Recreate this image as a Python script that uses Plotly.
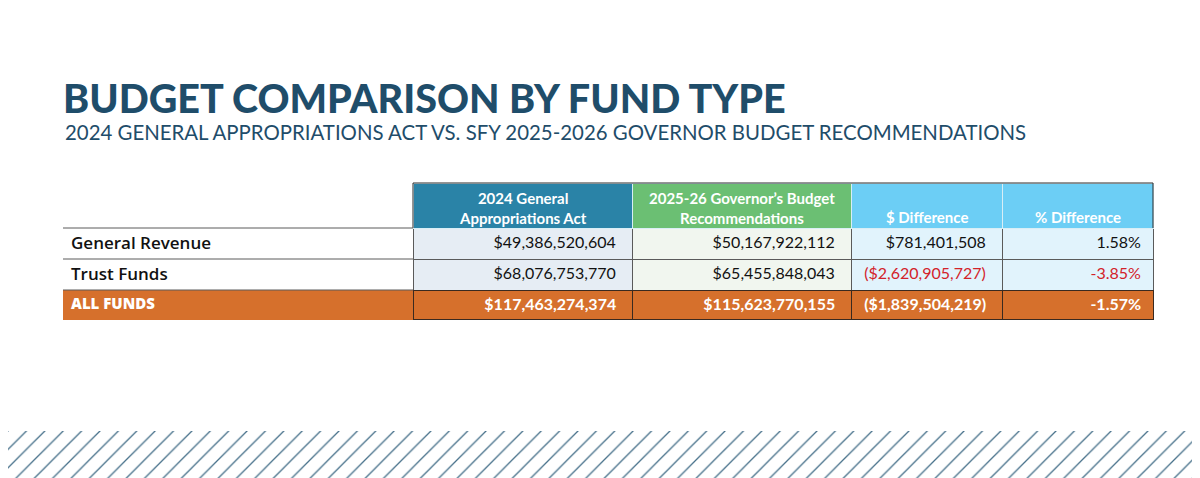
import plotly.graph_objects as go

# table data
fund_types = ["General Revenue", "Trust Funds", "ALL FUNDS"]
gaa_2024 = [49386520604, 68076753770, 117463274374]
gov_2526 = [50167922112, 65455848043, 115623770155]
dollar_diff = [781401508, -2620905727, -1839504219]
pct_diff = [1.58, -3.85, -1.57]

col_headers = ["", "2024 General<br>Appropriations Act", "2025-26 Governor’s Budget<br>Recommendations",
               "$ Difference", "% Difference"]

W, H = 1200, 478
OFF = 8          # the page body adds 8px before the figure
TX0, TX1, TY0 = 63, 1153, 183
HEAD_H, ROW_H, TOT_H = 45, 31, 29
col_w = [350, 219, 219, 151, 151]

NAVY = "#1f4d6a"
ORANGE = "#d6702c"
RED = "#d3222a"
INK = "#111111"
DARK = "#2b2b2b"
FAMS = ["Open Sans", "Lato", "Lato", "Lato", "Lato"]


def px(x):
    return (x - OFF) / W


def py(y):
    return 1 - (y - OFF) / H


def money(v):
    s = "${:,.0f}".format(abs(v))
    return "(" + s + ")" if v < 0 else s


NB = "\u00a0"
pads = ["", NB * 2, NB * 2, NB * 2, NB]
cols = [
    fund_types,
    [money(v) for v in gaa_2024],
    [money(v) for v in gov_2526],
    [money(v) for v in dollar_diff],
    ["{:.2f}%".format(v) for v in pct_diff],
]
cols = [[s + pads[i] for s in c] for i, c in enumerate(cols)]
body = [c[:-1] for c in cols]      # the two fund rows
total = [c[-1] for c in cols]      # the ALL FUNDS row

body_fill = ["white", "#e6edf4", "#f1f6ef", "#e1f3fc", "#e1f3fc"]
txt_col = [INK, INK, INK,
           [INK if v >= 0 else RED for v in dollar_diff[:-1]],
           [INK if v >= 0 else RED for v in pct_diff[:-1]]]
aligns = ["left", "right", "right", "right", "right"]

fig = go.Figure()

fig.add_trace(go.Table(
    domain=dict(x=[px(TX0), px(TX1)], y=[0, py(TY0)]),
    columnwidth=col_w,
    header=dict(
        values=[""] * 5,
        fill_color=["white", "#2a83a7", "#6bbf73", "#6ccef5", "#6ccef5"],
        line=dict(color=["white", "#d8eef6", "#d8eef6", "#d8eef6", "#d8eef6"], width=1),
        height=HEAD_H,
    ),
    cells=dict(
        values=body,
        fill_color=body_fill,
        line=dict(color=["white", "#5a5a5a", "#5a5a5a", "#5a5a5a", "#5a5a5a"], width=1),
        font=dict(family=FAMS, size=[17, 16, 16, 16, 16], color=txt_col,
                  weight=[600, 400, 400, 400, 400]),
        align=aligns,
        height=ROW_H,
    ),
))

# ALL FUNDS row: a second table whose header row is the total line
fig.add_trace(go.Table(
    domain=dict(x=[px(TX0), px(TX1)], y=[0, py(TY0 + HEAD_H + 2 * ROW_H)]),
    columnwidth=col_w,
    header=dict(
        values=total,
        fill_color=ORANGE,
        line=dict(color=[ORANGE, "#3a2a20", "#3a2a20", "#3a2a20", "#3a2a20"], width=1),
        font=dict(family=FAMS, size=[15, 16, 16, 16, 16], color="white",
                  weight=[800, 700, 700, 700, 700]),
        align=aligns,
        height=TOT_H,
    ),
))

# header labels, centred in their columns
x_left = TX0
for i, h in enumerate(col_headers):
    if h:
        two = "<br>" in h
        fig.add_annotation(text=h, xref="paper", yref="paper",
                           x=px(x_left + col_w[i] / 2), y=py(208 if two else 217),
                           xanchor="center", yanchor="middle", showarrow=False,
                           font=dict(family="Lato", size=15, color="white", weight=700))
    x_left += col_w[i]

# dark frame round the coloured header block
hx0 = TX0 + col_w[0]
for x0, y0, x1, y1 in [(hx0, TY0, TX1, TY0), (hx0, TY0, hx0, TY0 + HEAD_H), (TX1, TY0, TX1, TY0 + HEAD_H)]:
    fig.add_shape(type="line", xref="paper", yref="paper",
                  x0=px(x0), x1=px(x1), y0=py(y0), y1=py(y1), line=dict(color=DARK, width=1))

# rules under the label column (table draws that column borderless)
for k in range(3):
    yy = TY0 + HEAD_H + ROW_H * k
    fig.add_shape(type="line", xref="paper", yref="paper",
                  x0=px(TX0), x1=px(TX0 + col_w[0]), y0=py(yy), y1=py(yy),
                  line=dict(color="#5a5a5a", width=1))

# hatched band at the bottom
fig.add_trace(go.Scatter(
    x=[0, 1, 1, 0, 0], y=[0, 0, 1, 1, 0], mode="lines", fill="toself",
    line=dict(width=0), fillcolor="white", hoverinfo="skip", showlegend=False,
    fillpattern=dict(shape="/", size=13, solidity=0.1, fgcolor="#46708a", bgcolor="white",
                     fgopacity=1),
    xaxis="x", yaxis="y",
))

fig.add_annotation(text="BUDGET COMPARISON BY FUND TYPE", xref="paper", yref="paper",
                   x=px(TX0 - 2), y=py(97), xanchor="left", yanchor="middle", showarrow=False,
                   font=dict(family="Lato", size=39.5, color=NAVY, weight=900))
fig.add_annotation(text="2024 GENERAL APPROPRIATIONS ACT VS. SFY 2025-2026 GOVERNOR BUDGET RECOMMENDATIONS",
                   xref="paper", yref="paper", x=px(TX0), y=py(132), xanchor="left", yanchor="middle",
                   showarrow=False, font=dict(family="Lato", size=20.4, color=NAVY, weight=400))

fig.update_layout(
    width=W, height=H, margin=dict(l=0, r=0, t=0, b=0),
    paper_bgcolor="white", plot_bgcolor="white",
    xaxis=dict(domain=[0, 1], range=[0, 1], visible=False, fixedrange=True),
    yaxis=dict(domain=[0, 55 / H], range=[0, 1], visible=False, fixedrange=True),
    showlegend=False,
)

fig.write_html("out.html")
